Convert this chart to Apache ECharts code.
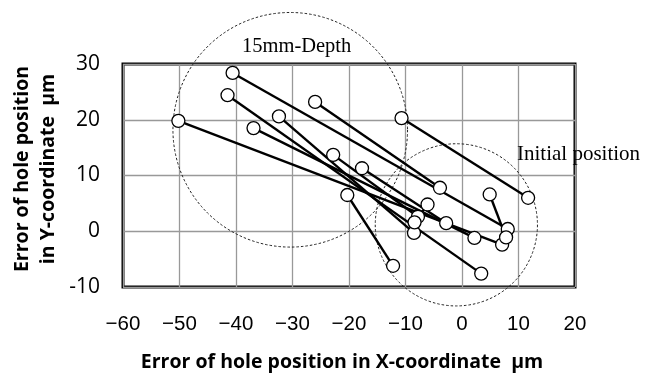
<!DOCTYPE html>
<html>
<head>
<meta charset="utf-8">
<script src="https://cdn.jsdelivr.net/npm/echarts@6/dist/echarts.min.js"></script>
<style>
html,body{margin:0;padding:0;background:#fff;}
#chart{width:654px;height:374px;}
</style>
</head>
<body>
<div id="chart"></div>
<script>
// Hole position errors (µm): 15mm-depth position -> initial position, one entry per hole
const depthX = [-40.6, -41.5, -50.2, -32.4, -36.9, -26.0, -10.7, -22.8, -17.7, -20.3, 4.9, -6.1];
const depthY = [28.4, 24.4, 19.8, 20.6, 18.5, 23.2, 20.3, 13.7, 11.3, 6.5, 6.6, 4.8];
const initX  = [8.1, 3.4, 7.1, -8.5, 2.2, -3.9, 11.7, -7.8, -2.8, -12.2, 7.8, -8.4];
const initY  = [0.4, -7.6, -2.4, -0.3, -1.2, 7.8, 6.0, 2.6, 1.45, -6.2, -1.1, 1.6];

// Dashed group circles: [centerX, centerY, radius] in data units
const circleData = [[-30.4, 18.2, 20.9], [-1.0, 1.15, 14.45]];
const circleLabels = ['15mm-Depth', 'Initial position'];

const xTicks = [-60, -50, -40, -30, -20, -10, 0, 10, 20];
const yTicks = [-10, 0, 10, 20, 30];

const chart = echarts.init(document.getElementById('chart'), null, {renderer: 'canvas'});

const series = [];
series.push({
  type: 'custom',
  z: 1,
  silent: true,
  clip: false,
  data: circleData,
  renderItem: function (params, api) {
    const c = api.coord([api.value(0), api.value(1)]);
    const s = api.size([api.value(2), api.value(2)]);
    return {
      type: 'circle',
      shape: {cx: c[0], cy: c[1], r: (s[0] + s[1]) / 2},
      style: {fill: 'none', stroke: '#222', lineWidth: 1, lineDash: [2.5, 2]}
    };
  }
});
for (let i = 0; i < depthX.length; i++) {
  series.push({
    type: 'line',
    z: 2,
    silent: true,
    showSymbol: false,
    symbol: 'none',
    lineStyle: {color: '#000', width: 2.4},
    data: [[depthX[i], depthY[i]], [initX[i], initY[i]]]
  });
}
const pts = [];
for (let i = 0; i < depthX.length; i++) {
  pts.push([depthX[i], depthY[i]]);
  pts.push([initX[i], initY[i]]);
}
series.push({
  type: 'scatter',
  z: 3,
  silent: true,
  symbol: 'circle',
  symbolSize: 13,
  itemStyle: {color: '#fff', borderColor: '#000', borderWidth: 1.3, opacity: 1},
  data: pts
});

chart.setOption({
  animation: false,
  backgroundColor: '#fff',
  grid: {
    left: 123, right: 79, top: 64, bottom: 87,
    show: true, borderColor: '#000', borderWidth: 3, backgroundColor: '#fff'
  },
  xAxis: {
    type: 'value',
    min: xTicks[0], max: xTicks[xTicks.length - 1], interval: 10,
    axisLine: {show: false},
    axisTick: {show: false},
    splitLine: {show: true, lineStyle: {color: '#999', width: 1.3}},
    axisLabel: {
      margin: 27, color: '#000', fontSize: 20.5, fontFamily: 'Liberation Sans',
      formatter: v => (v < 0 ? '\u2212' + Math.abs(v) : String(v))
    }
  },
  yAxis: {
    type: 'value',
    min: yTicks[0], max: yTicks[yTicks.length - 1], interval: 10,
    axisLine: {show: false},
    axisTick: {show: false},
    splitLine: {show: true, lineStyle: {color: '#999', width: 1.3}},
    axisLabel: {
      margin: 23, color: '#000', fontSize: 21, fontFamily: 'Open Sans',
      formatter: v => String(v)
    }
  },
  graphic: [
    {type: 'text', x: 22, y: 169, rotation: Math.PI / 2,
     style: {text: 'Error of hole position', fill: '#000', font: 'bold 19.5px "Open Sans"', align: 'center', verticalAlign: 'middle'}},
    {type: 'text', x: 48, y: 169, rotation: Math.PI / 2,
     style: {text: 'in Y-coordinate  \u03bcm', fill: '#000', font: 'bold 19.5px "Open Sans"', align: 'center', verticalAlign: 'middle'}},
    {type: 'text', x: 342, y: 362,
     style: {text: 'Error of hole position in X-coordinate  \u03bcm', fill: '#000', font: 'bold 19.5px "Open Sans"', align: 'center', verticalAlign: 'middle'}},
    {type: 'text', x: 242, y: 47, z: 10,
     style: {text: circleLabels[0], fill: '#000', font: '20.5px "Liberation Serif"', align: 'left', verticalAlign: 'middle'}},
    {type: 'text', x: 517, y: 154, z: 10,
     style: {text: circleLabels[1], fill: '#000', font: '21px "Liberation Serif"', align: 'left', verticalAlign: 'middle'}}
  ],
  series: series
});
</script>
</body>
</html>
